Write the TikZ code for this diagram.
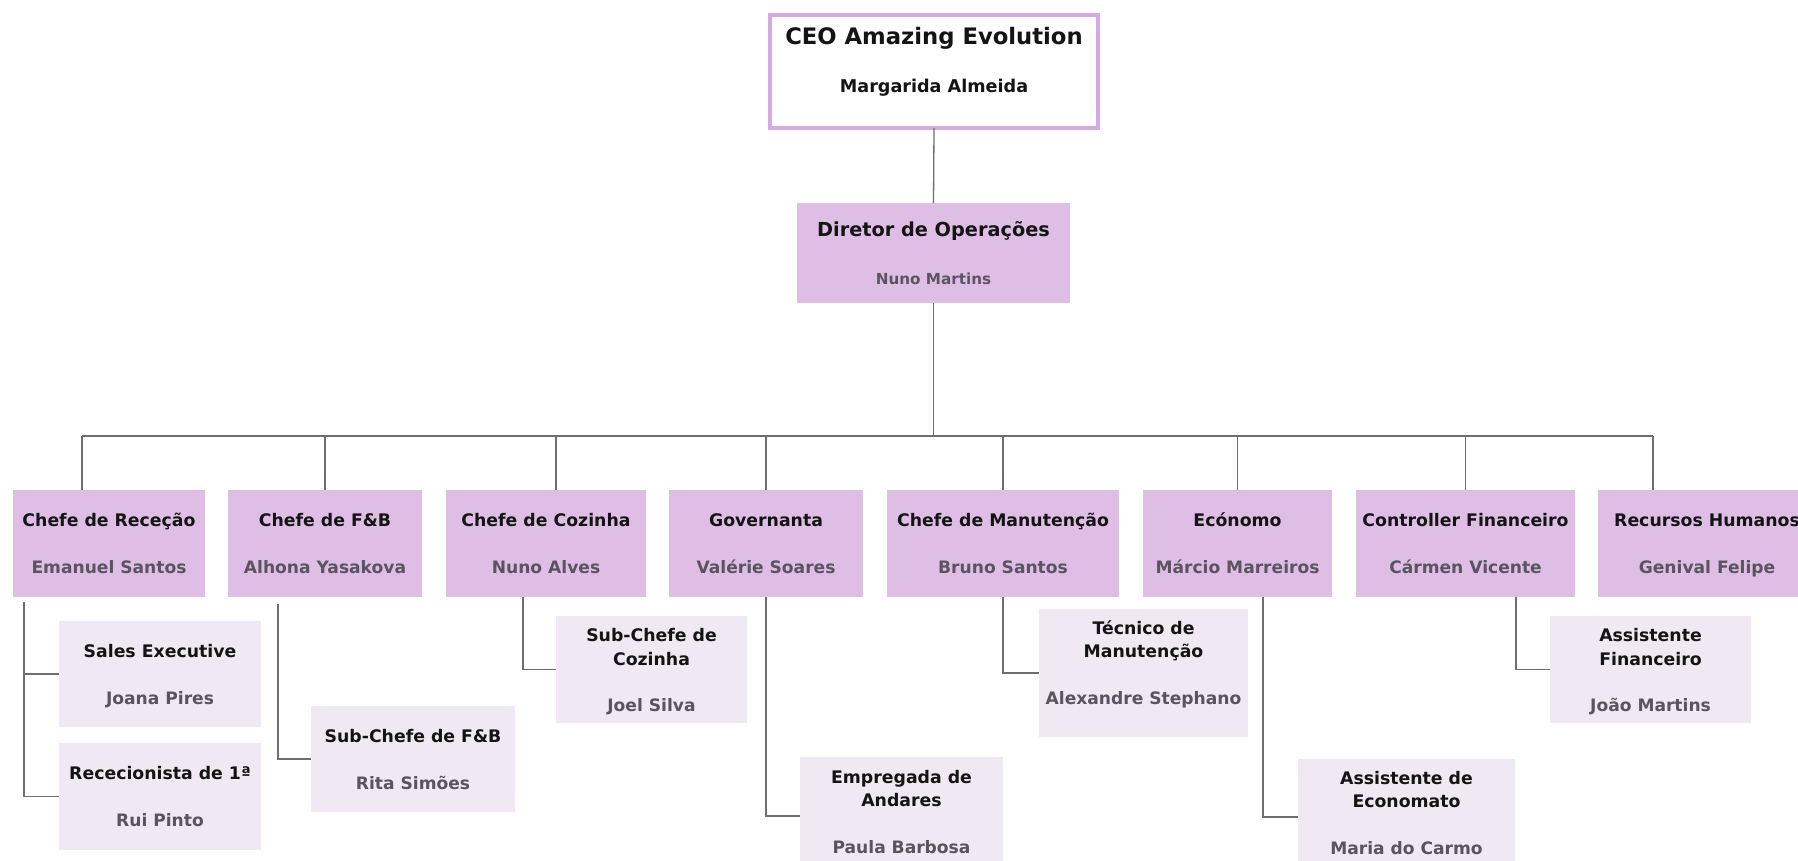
\documentclass[tikz,border=0pt]{standalone}
\usepackage{fontspec}
\setmainfont{DejaVu Sans}
\usetikzlibrary{calc}
\definecolor{lav}{HTML}{DEBEE4}
\definecolor{lavlight}{HTML}{F0E8F3}
\definecolor{ceoborder}{HTML}{D7A9E3}
\definecolor{namegray}{HTML}{5A5460}
\definecolor{ttlblack}{HTML}{141414}
\definecolor{linegray}{HTML}{6E6E6E}
\begin{document}
\begin{tikzpicture}[x=1pt,y=-1pt,
  lvlbox/.style={fill=lav, draw=none, inner sep=0pt, outer sep=0pt},
  subbox/.style={fill=lavlight, draw=none, inner sep=0pt, outer sep=0pt},
  ceobox/.style={fill=white, draw=ceoborder, line width=4pt, inner sep=0pt, outer sep=0pt},
  ttl/.style={anchor=base, inner sep=0pt, text=ttlblack, font=\fontsize{17.3}{20}\selectfont\bfseries},
  nam/.style={anchor=base, inner sep=0pt, text=namegray, font=\fontsize{17.1}{20}\selectfont\bfseries},
  conn/.style={draw=linegray, line width=1.3pt}
]
\useasboundingbox (0,0) rectangle (1798,861);
\clip (0,0) rectangle (1798,861);
\fill[white] (0,0) rectangle (1798,861);

% CEO
\node[ceobox, minimum width=328, minimum height=113] (ceo) at (934,71.5) {};
\node[anchor=base, inner sep=0pt, text=ttlblack, font=\fontsize{22.7}{26}\selectfont\bfseries] (ceoT) at (934,44.3) {CEO Amazing Evolution};
\node[anchor=base, inner sep=0pt, text=ttlblack, font=\fontsize{17.6}{20}\selectfont\bfseries] (ceoN) at (934,92.4) {Margarida Almeida};

% Director
\node[lvlbox, minimum width=273, minimum height=100] (dir) at (933.5,253) {};
\node[anchor=base, inner sep=0pt, text=ttlblack, font=\fontsize{19.3}{22}\selectfont\bfseries] (dirT) at (933.5,236) {Diretor de Operações};
\node[anchor=base, inner sep=0pt, text=namegray, font=\fontsize{15.2}{18}\selectfont\bfseries] (dirN) at (933.5,284) {Nuno Martins};

% Level 2
\node[lvlbox, minimum width=192, minimum height=107] (rec) at (109,543.5) {};
\node[ttl] (recT) at (109,526.3) {Chefe de Receção};
\node[nam] (recN) at (109,573.2) {Emanuel Santos};

\node[lvlbox, minimum width=194, minimum height=107] (fb) at (325,543.5) {};
\node[ttl] (fbT) at (325,526.3) {Chefe de F\&B};
\node[nam] (fbN) at (325,573.2) {Alhona Yasakova};

\node[lvlbox, minimum width=200, minimum height=107] (coz) at (546,543.5) {};
\node[ttl] (cozT) at (546,526.3) {Chefe de Cozinha};
\node[nam] (cozN) at (546,573.2) {Nuno Alves};

\node[lvlbox, minimum width=194, minimum height=107] (gov) at (766,543.5) {};
\node[ttl] (govT) at (766,526.3) {Governanta};
\node[nam] (govN) at (766,573.2) {Valérie Soares};

\node[lvlbox, minimum width=232, minimum height=107] (man) at (1003,543.5) {};
\node[ttl] (manT) at (1003,526.3) {Chefe de Manutenção};
\node[nam] (manN) at (1003,573.2) {Bruno Santos};

\node[lvlbox, minimum width=189, minimum height=107] (eco) at (1237.5,543.5) {};
\node[ttl] (ecoT) at (1237.5,526.3) {Ecónomo};
\node[nam] (ecoN) at (1237.5,573.2) {Márcio Marreiros};

\node[lvlbox, minimum width=219, minimum height=107] (ctl) at (1465.5,543.5) {};
\node[ttl] (ctlT) at (1465.5,526.3) {Controller Financeiro};
\node[nam] (ctlN) at (1465.5,573.2) {Cármen Vicente};

\node[lvlbox, minimum width=218, minimum height=107] (rh) at (1707,543.5) {};
\node[ttl] (rhT) at (1707,526.3) {Recursos Humanos};
\node[nam] (rhN) at (1707,573.2) {Genival Felipe};

% Sub boxes
\node[subbox, minimum width=202, minimum height=106] (sales) at (160,674) {};
\node[ttl] (salesT) at (160,657.3) {Sales Executive};
\node[nam] (salesN) at (160,704.2) {Joana Pires};

\node[subbox, minimum width=202, minimum height=107] (recp) at (160,796.5) {};
\node[ttl] (recpT) at (160,779.3) {Rececionista de 1ª};
\node[nam] (recpN) at (160,826.2) {Rui Pinto};

\node[subbox, minimum width=204, minimum height=106] (sfb) at (413,759) {};
\node[ttl] (sfbT) at (413,742.3) {Sub-Chefe de F\&B};
\node[nam] (sfbN) at (413,789.2) {Rita Simões};

\node[subbox, minimum width=191, minimum height=107] (scoz) at (651.5,669.5) {};
\node[ttl] (scozT1) at (651.5,641.3) {Sub-Chefe de};
\node[ttl] (scozT2) at (651.5,665.3) {Cozinha};
\node[nam] (scozN) at (651.5,711.2) {Joel Silva};

\node[subbox, minimum width=203, minimum height=118] (emp) at (901.5,816) {};
\node[ttl] (empT1) at (901.5,783.3) {Empregada de};
\node[ttl] (empT2) at (901.5,806.3) {Andares};
\node[nam] (empN) at (901.5,853.2) {Paula Barbosa};

\node[subbox, minimum width=209, minimum height=128] (tec) at (1143.5,673) {};
\node[ttl] (tecT1) at (1143.5,634.3) {Técnico de};
\node[ttl] (tecT2) at (1143.5,657.3) {Manutenção};
\node[nam] (tecN) at (1143.5,704.2) {Alexandre Stephano};

\node[subbox, minimum width=217, minimum height=116] (aeco) at (1406.5,817) {};
\node[ttl] (aecoT1) at (1406.5,784.3) {Assistente de};
\node[ttl] (aecoT2) at (1406.5,807.3) {Economato};
\node[nam] (aecoN) at (1406.5,854.2) {Maria do Carmo};

\node[subbox, minimum width=201, minimum height=107] (afin) at (1650.5,669.5) {};
\node[ttl] (afinT1) at (1650.5,641.3) {Assistente};
\node[ttl] (afinT2) at (1650.5,665.3) {Financeiro};
\node[nam] (afinN) at (1650.5,711.2) {João Martins};

% Top connectors
\coordinate (busL) at (82,436);
\coordinate (busR) at (1653,436);
\draw[conn] (ceo.south) -- (dir.north);
\draw[conn] (dir.south) -- (dir.south |- busL);
\draw[conn] (busL) -- (busR);
\draw[conn] ([xshift=69]rec.north west) -- ++(0,-54);
\draw[conn] (fb.north) -- ++(0,-54);
\draw[conn] ([xshift=10]coz.north) -- ++(0,-54);
\draw[conn] (gov.north) -- ++(0,-54);
\draw[conn] (man.north) -- ++(0,-54);
\draw[conn] (eco.north) -- ++(0,-54);
\draw[conn] (ctl.north) -- ++(0,-54);
\draw[conn] ([xshift=55]rh.north west) -- ++(0,-54);

% Sub connectors
\draw[conn] ([xshift=11,yshift=-5]rec.south west) |- (sales.west);
\draw[conn] ([xshift=11,yshift=-5]rec.south west) |- (recp.west);
\draw[conn] ([xshift=50,yshift=-7]fb.south west) |- (sfb.west);
\draw[conn] ([xshift=77]coz.south west) |- (scoz.west);
\draw[conn] (gov.south) |- (emp.west);
\draw[conn] (man.south) |- (tec.west);
\draw[conn] ([xshift=120]eco.south west) |- (aeco.west);
\draw[conn] ([xshift=160]ctl.south west) |- (afin.west);
\end{tikzpicture}
\end{document}
